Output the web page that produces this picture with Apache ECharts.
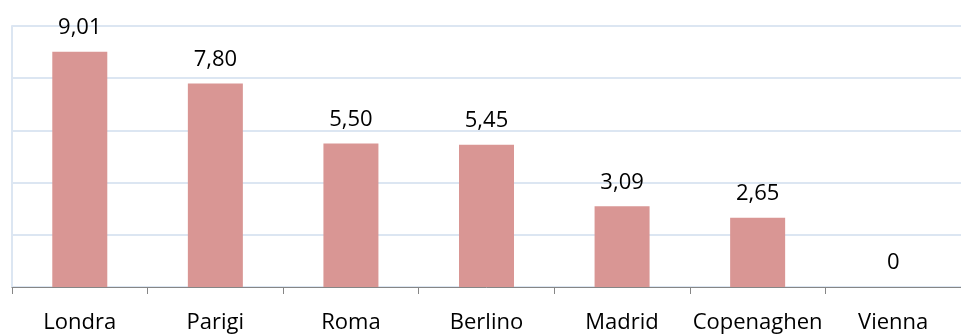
<!DOCTYPE html>
<html>
<head>
<meta charset="utf-8">
<script src="https://cdn.jsdelivr.net/npm/echarts@6/dist/echarts.min.js"></script>
<style>
  html, body { margin: 0; padding: 0; background: #fff; }
  #chart { width: 961px; height: 334px; }
</style>
</head>
<body>
<div id="chart"></div>
<script>
// città e valori
var cities = ['Londra', 'Parigi', 'Roma', 'Berlino', 'Madrid', 'Copenaghen', 'Vienna'];
var values = [9.01, 7.80, 5.50, 5.45, 3.09, 2.65, 0];

var chart = echarts.init(document.getElementById('chart'));

chart.setOption({
  animation: false,
  textStyle: { fontFamily: 'Open Sans' },
  grid: { top: 26, bottom: 45, left: 12, right: -10 },
  xAxis: {
    type: 'category',
    data: cities,
    axisLine: { lineStyle: { color: '#868686', width: 1 } },
    axisTick: { show: true, length: 7, lineStyle: { color: '#868686' } },
    axisLabel: { color: '#000', fontSize: 22, margin: 25, interval: 0 }
  },
  yAxis: {
    type: 'value',
    min: 0,
    max: 10,
    interval: 2,
    axisLabel: { show: false },
    axisTick: { show: false },
    axisLine: { show: true, lineStyle: { color: '#dce6f2', width: 2 } },
    splitLine: { lineStyle: { color: '#dce6f2', width: 2 } }
  },
  series: [{
    type: 'bar',
    data: values,
    barWidth: 55,
    itemStyle: { color: '#d99694' },
    label: {
      show: true,
      position: 'top',
      distance: 13,
      color: '#000',
      fontSize: 22,
      formatter: function (p) {
        return p.value === 0 ? '0' : p.value.toFixed(2).replace('.', ',');
      }
    }
  }]
});
</script>
</body>
</html>
